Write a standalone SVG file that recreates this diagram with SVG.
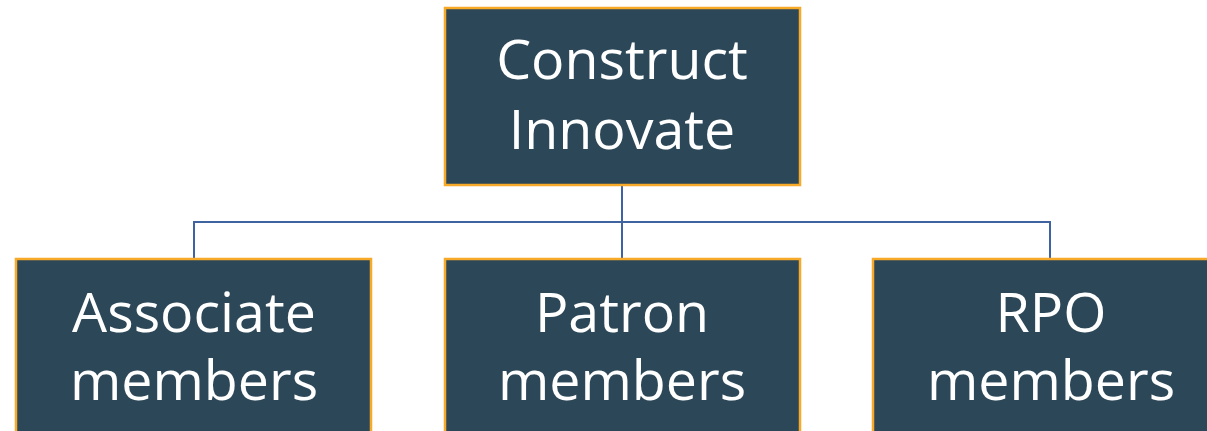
<svg xmlns="http://www.w3.org/2000/svg" width="1207" height="431" viewBox="0 0 1207 431">
<style>
.box{fill:#2C4758;stroke:#F7A928;stroke-width:2.5}
.lbl{fill:#FFFFFF;font-family:"Open Sans","Liberation Sans",sans-serif;font-size:55.5px;text-anchor:middle}
.conn{fill:none;stroke:#3F62A0;stroke-width:2}
</style>
<rect width="1207" height="431" fill="#FFFFFF"/>
<g id="connectors">
<path class="conn" d="M622,185 V222 M194,258 V222 H1050 V258 M622,222 V258"/>
</g>
<g id="construct-innovate">
<rect class="box" x="445" y="8" width="355" height="177"/>
<text class="lbl" x="622" y="79">Construct</text>
<text class="lbl" x="622" y="149">Innovate</text>
</g>
<g id="associate-members">
<rect class="box" x="16" y="259" width="355" height="190"/>
<text class="lbl" x="194" y="332">Associate</text>
<text class="lbl" x="194" y="400">members</text>
</g>
<g id="patron-members">
<rect class="box" x="445" y="259" width="355" height="190"/>
<text class="lbl" x="622" y="332">Patron</text>
<text class="lbl" x="622" y="400">members</text>
</g>
<g id="rpo-members">
<rect class="box" x="873" y="259" width="355" height="190"/>
<text class="lbl" x="1051" y="332">RPO</text>
<text class="lbl" x="1051" y="400">members</text>
</g>
</svg>
